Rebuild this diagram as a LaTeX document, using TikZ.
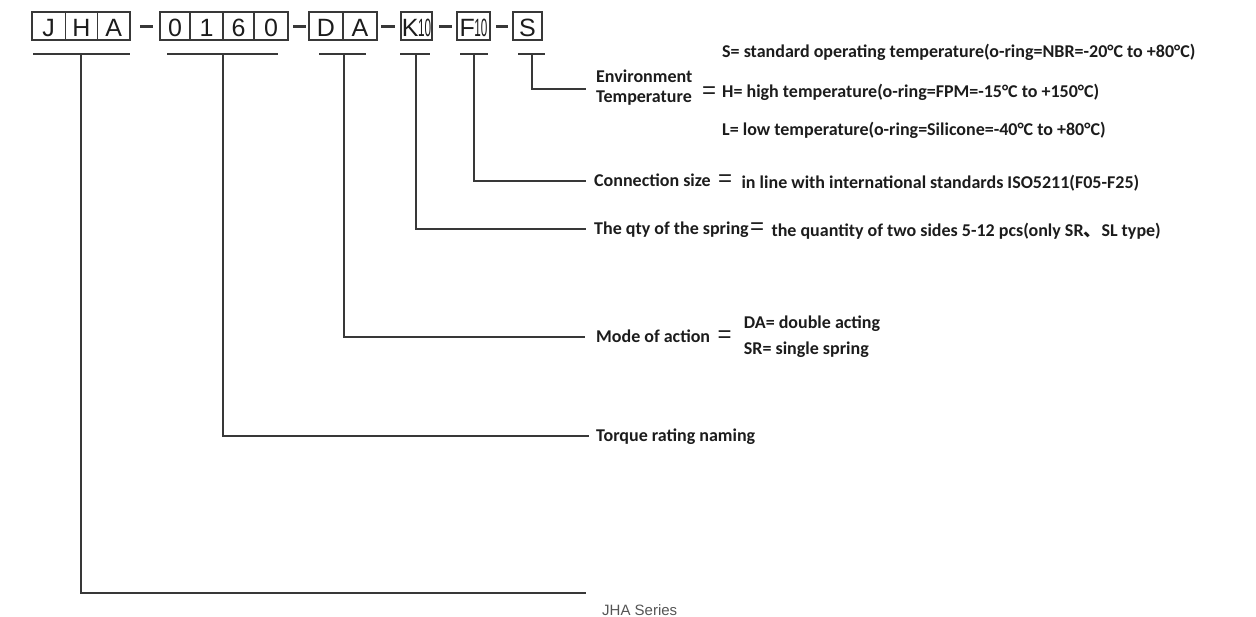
\documentclass[tikz,border=0pt]{standalone}
\usepackage{fontspec}
\setmainfont{Carlito}
\newfontfamily\boxfont{Liberation Sans}
\newfontfamily\cjkfont{Noto Sans CJK SC}
\definecolor{lc}{HTML}{383838}
\definecolor{tc}{HTML}{1C1C1C}
\definecolor{sc}{HTML}{555555}
\begin{document}
\begin{tikzpicture}[x=1pt,y=-1pt,
  grp/.style={draw=lc, line width=2.8pt, rectangle, minimum height=28pt, inner sep=0pt},
  div/.style={draw=lc, line width=1.6pt},
  let/.style={font=\boxfont\fontsize{25}{25}\selectfont, text=tc, anchor=base, inner sep=0pt},
  ul/.style={draw=lc, line width=2pt},
  ln/.style={draw=lc, line width=2.2pt},
  lab/.style={font=\bfseries\fontsize{18}{20}\selectfont, text=tc, anchor=base west, inner sep=0pt},
  eq/.style={font=\boxfont\fontsize{24}{24}\selectfont, text=tc, anchor=base west, inner sep=0pt},
  dsh/.style={draw=lc, line width=2.4pt}]
\useasboundingbox (0,0) rectangle (1256,617);
% ---- code boxes
\node[grp, minimum width=98pt]  (bJHA) at (81,26) {};
\node[grp, minimum width=128pt] (b0160) at (224,26) {};
\node[grp, minimum width=68pt]  (bDA) at (343,26) {};
\node[grp, minimum width=31pt]  (bK) at (416.5,26) {};
\node[grp, minimum width=33pt]  (bF) at (473.5,26) {};
\node[grp, minimum width=29pt]  (bS) at (527.5,26) {};
\draw[div] (65.5,12) -- (65.5,40) (97.5,12) -- (97.5,40);
\draw[div] (190,12) -- (190,40) (223,12) -- (223,40) (254,12) -- (254,40);
\draw[div] (343,12) -- (343,40);
\node[let] (tJ) at (48.7,37) {J};
\node[let] (tH) at (81.5,37) {H};
\node[let] (tA) at (113.7,37) {A};
\node[let] (t0a) at (175,37) {0};
\node[let] (t1) at (206.5,37) {1};
\node[let] (t6) at (238.5,37) {6};
\node[let] (t0b) at (271,37) {0};
\node[let] (tD) at (326,37) {D};
\node[let] (tA2) at (360,37) {A};
\node[let] (tK) at (416.5,37) {K\kern-0.5pt\scalebox{0.47}[1]{10}};
\node[let] (tF) at (473.5,37) {F\kern-0.5pt\scalebox{0.47}[1]{10}};
\node[let] (tS) at (527.5,37) {S};
% dashes
\draw[dsh] (140,26.5) -- (153,26.5);
\draw[dsh] (293,26.5) -- (306,26.5);
\draw[dsh] (381,26.5) -- (395,26.5);
\draw[dsh] (439,26.5) -- (452,26.5);
\draw[dsh] (496,26.5) -- (508,26.5);
% underlines
\draw[ul] (33,54) -- (130,54);
\draw[ul] (167,54) -- (278,54);
\draw[ul] (319,54) -- (366,54);
\draw[ul] (400,54) -- (430,54);
\draw[ul] (460,54) -- (488,54);
\draw[ul] (518,54) -- (545,54);
\coordinate (uJHA) at (81,54);
\coordinate (u0160) at (223,54);
\coordinate (uDA) at (344,54);
\coordinate (uK) at (416,54);
\coordinate (uF) at (474,54);
\coordinate (uS) at (532,54);
% ---- labels
\node[lab] (env1) at (596,82.5) {Environment};
\node[lab] (env2) at (596,102.5) {Temperature};
\node[eq] (envEq) at (702,99) {=};
\node[lab] (optS) at (722,57.5) {S= standard operating temperature(o-ring=NBR=-20°C to +80°C)};
\node[lab] (optH) at (722,98) {H= high temperature(o-ring=FPM=-15°C to +150°C)};
\node[lab] (optL) at (722,136) {L= low temperature(o-ring=Silicone=-40°C to +80°C)};
\node[lab] (con) at (594,186.5) {Connection size};
\node[eq] (conEq) at ([xshift=7pt]con.base east) {=};
\node[lab] (conV) at ([xshift=9pt,yshift=-2pt]conEq.base east) {in line with international standards ISO5211(F05-F25)};
\node[lab] (qty) at (594,234.5) {The qty of the spring};
\node[eq] (qtyEq) at ([xshift=1pt]qty.base east) {=};
\node[lab] (qtyV) at ([xshift=7pt,yshift=-2pt]qtyEq.base east) {the quantity of two sides 5-12 pcs(only SR{\cjkfont 、}SL type)};
\node[lab] (mode) at (596,342.5) {Mode of action};
\node[eq] (modeEq) at ([xshift=7pt]mode.base east) {=};
\node[lab] (da) at ([xshift=12pt,yshift=14pt]modeEq.base east) {DA= double acting};
\node[lab] (sr) at ([xshift=12pt,yshift=-12pt]modeEq.base east) {SR= single spring};
\node[lab] (torque) at (596,441.5) {Torque rating naming};
\node[font=\boxfont\fontsize{15}{15}\selectfont, text=sc, anchor=base west, inner sep=0pt] (series) at (602,615) {JHA Series};
% ---- connectors
\coordinate (eS) at (586,89);
\coordinate (eF) at (586,181);
\coordinate (eK) at (586,229);
\coordinate (eDA) at (585,337);
\coordinate (e0160) at (589,436);
\coordinate (eJHA) at (586,593);
\draw[ln] (uS) |- (eS);
\draw[ln] (uF) |- (eF);
\draw[ln] (uK) |- (eK);
\draw[ln] (uDA) |- (eDA);
\draw[ln] (u0160) |- (e0160);
\draw[ln] (uJHA) |- (eJHA);
\end{tikzpicture}
\end{document}
